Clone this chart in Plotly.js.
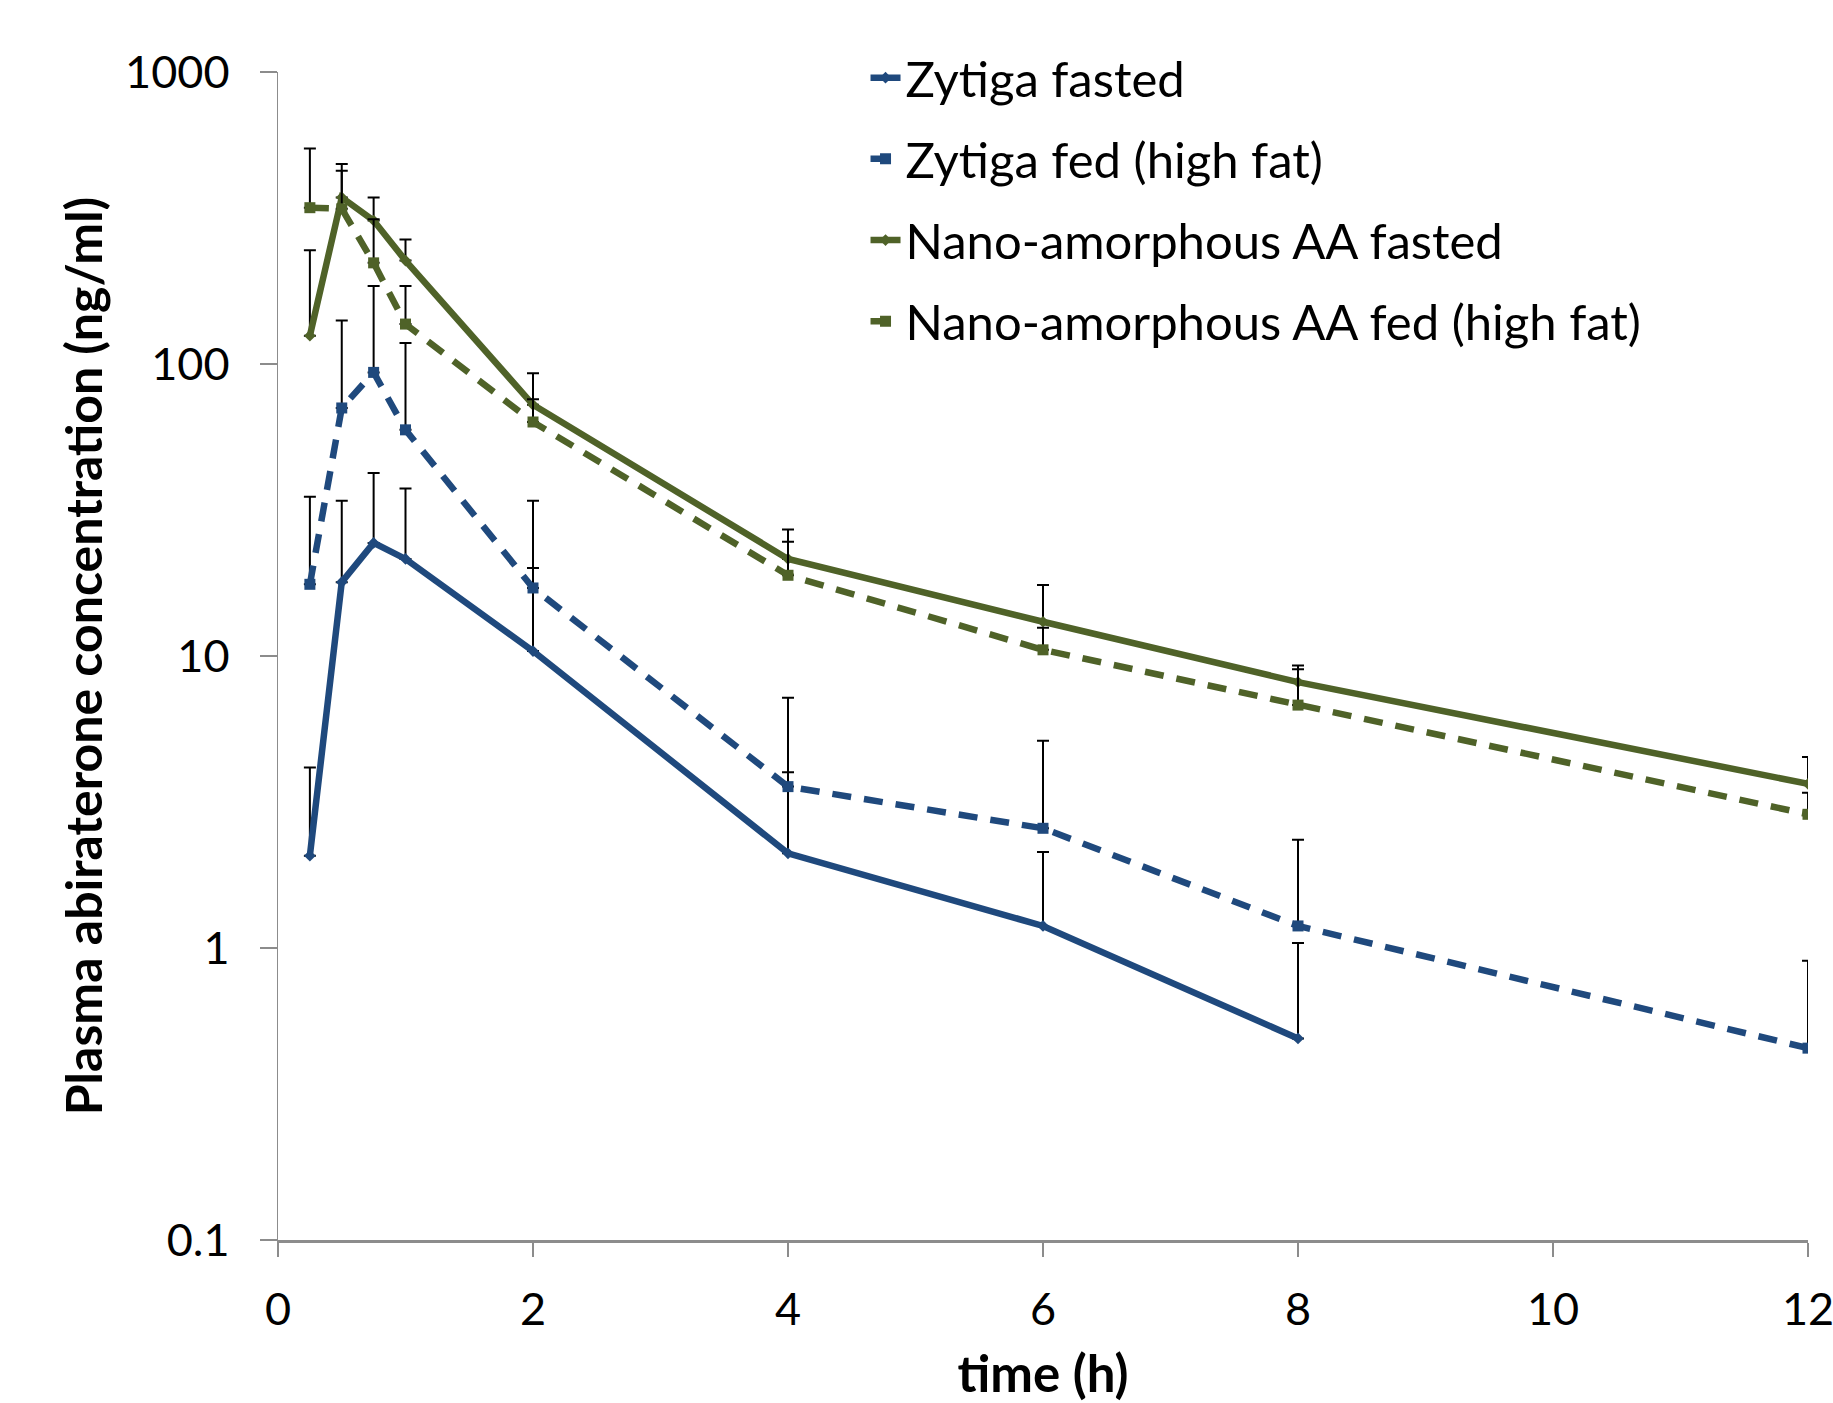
<!DOCTYPE html>
<html>
<head>
<meta charset="utf-8">
<script src="https://cdn.plot.ly/plotly-3.0.1.min.js"></script>
<style>html,body{margin:0;padding:0;background:#fff;}#chart{width:1833px;height:1403px;}</style>
</head>
<body>
<div id="chart"></div>
<script>
// time points (h)
const timeH = [0.25, 0.5, 0.75, 1, 2, 4, 6, 8, 12];

// mean plasma concentrations (ng/ml)
const zytigaFasted = [2.07, 17.9, 24.4, 21.5, 10.4, 2.11, 1.19, 0.49, null];
const zytigaFed    = [17.6, 70.7, 93.6, 59.5, 17.1, 3.57, 2.57, 1.19, 0.454];
const nanoFasted   = [125, 372, 310, 226, 72.5, 21.5, 13.1, 8.14, 3.65];
const nanoFed      = [343, 340, 222, 137, 63.3, 18.9, 10.5, 6.79, 2.87];

// top of the (upper) error bars (ng/ml)
const zytigaFastedTop = [4.15, 34.0, 42.3, 37.5, 20.0, 4.0, 2.13, 1.04, null];
const zytigaFedTop    = [35.1, 141, 185, 118, 34.0, 7.2, 5.13, 2.35, 0.905];
const nanoFastedTop   = [245, 484, 372, 267, 93, 27.1, 17.5, 9.27, 4.51];
const nanoFedTop      = [547, 459, 313, 185, 75.7, 24.6, 12.5, 9.0, 3.4];

const seriesNames = ["Zytiga fasted", "Zytiga fed (high fat)", "Nano-amorphous AA fasted", "Nano-amorphous AA fed (high fat)"];
const xTicks = [0, 2, 4, 6, 8, 10, 12];
const yTickVals = [0.1, 1, 10, 100, 1000];
const yTickText = ["0.1", "1", "10", "100", "1000"];

const BLUE = "#1F497D";
const GREEN = "#4F6228";

function plus(vals, tops) {
  return vals.map((v, i) => (v == null || tops[i] == null) ? null : tops[i] - v);
}
function zeros(vals) { return vals.map(() => 0); }

function trace(name, vals, tops, color, dashed, group) {
  return {
    type: "scatter",
    mode: "lines+markers",
    name: name,
    legendgroup: group,
    x: timeH,
    y: vals,
    line: {color: color, width: 6.5, dash: dashed ? "19px,13px" : "solid"},
    marker: {color: color, symbol: dashed ? "square" : "diamond", size: dashed ? 11 : 9},
    error_y: {
      type: "data", symmetric: false,
      array: plus(vals, tops), arrayminus: zeros(vals),
      color: "#000000", thickness: 2, width: 6
    },
    connectgaps: false
  };
}

const data = [
  trace(seriesNames[0], zytigaFasted, zytigaFastedTop, BLUE, false, "g1"),
  trace(seriesNames[1], zytigaFed, zytigaFedTop, BLUE, true, "g2"),
  trace(seriesNames[2], nanoFasted, nanoFastedTop, GREEN, false, "g3"),
  trace(seriesNames[3], nanoFed, nanoFedTop, GREEN, true, "g4")
];

const FONT = "Lato, 'Open Sans', sans-serif";

const layout = {
  width: 1833,
  height: 1403,
  margin: {l: 278, r: 25, t: 72, b: 163, pad: 0},
  paper_bgcolor: "#ffffff",
  plot_bgcolor: "#ffffff",
  font: {family: FONT, color: "#000000", size: 45},
  showlegend: true,
  legend: {
    x: 0.384, xanchor: "left",
    y: 1.028, yanchor: "top",
    bgcolor: "rgba(0,0,0,0)",
    font: {family: FONT, size: 49, color: "#000"},
    tracegroupgap: 14.5,
    traceorder: "grouped"
  },
  xaxis: {
    range: [0, 12],
    tickvals: xTicks,
    ticktext: xTicks.map(String),
    showgrid: false, zeroline: false,
    showline: true, linecolor: "#8c8c8c", linewidth: 2.5,
    ticks: "outside", ticklen: 14, tickcolor: "#8c8c8c", tickwidth: 1.5,
    tickfont: {family: FONT, size: 45, color: "#000"},
    ticklabelstandoff: 14,
    ticklabeloverflow: "allow",
    title: {text: "<b>time (h)</b>", font: {family: FONT, size: 51, color: "#000"}, standoff: 30},
    automargin: false
  },
  yaxis: {
    type: "log",
    range: [-1, 3],
    tickvals: yTickVals,
    ticktext: yTickText,
    showgrid: false, zeroline: false,
    showline: true, linecolor: "#8c8c8c", linewidth: 1.5,
    ticks: "outside", ticklen: 17, tickcolor: "#8c8c8c", tickwidth: 1.5,
    tickfont: {family: FONT, size: 45, color: "#000"},
    ticklabelstandoff: 21,
    title: {text: "<b>Plasma abiraterone concentration (ng/ml)</b>", font: {family: FONT, size: 50, color: "#000"}, standoff: 6},
    automargin: false
  }
};

Plotly.newPlot("chart", data, layout, {staticPlot: true, displayModeBar: false});
</script>
</body>
</html>
